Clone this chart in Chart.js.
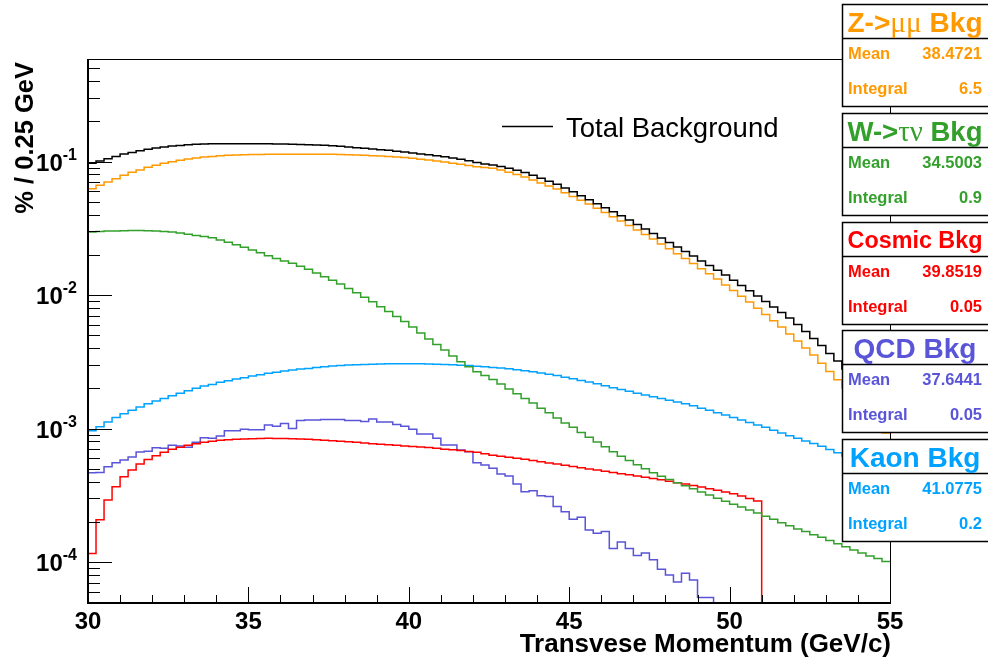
<!DOCTYPE html>
<html>
<head>
<meta charset="utf-8">
<script src="https://cdn.jsdelivr.net/npm/chart.js@4.4.0/dist/chart.umd.min.js"></script>
<style>
  html, body { margin: 0; padding: 0; background: #fff; }
  #wrap { width: 988px; height: 662px; }
</style>
</head>
<body>
<div id="wrap"><canvas id="bkgChart" width="988" height="662"></canvas></div>
<script>
// binning (0.25 GeV bins from 30 to 55)
const binLow = 30;
const binWidth = 0.25;
const xTicks = [30, 35, 40, 45, 50, 55];
const yDecades = [1e-4, 1e-3, 1e-2, 1e-1];
const yExponents = ['-4', '-3', '-2', '-1'];
const yMin = 4.93e-5;
const yMax = 0.586;

// values, one per bin (% / 0.25 GeV)
const totalBkg = [
  0.0969, 0.1009, 0.105, 0.109, 0.1138, 0.117, 0.1205, 0.1234, 0.1263, 0.1284,
  0.1306, 0.132, 0.1336, 0.1345, 0.1352, 0.1356, 0.1358, 0.136, 0.136, 0.136,
  0.136, 0.1358, 0.1356, 0.1354, 0.1351, 0.1347, 0.1342, 0.1336, 0.1329, 0.1321,
  0.1311, 0.1299, 0.1285, 0.1269, 0.1255, 0.124, 0.1227, 0.1213, 0.1196, 0.1178,
  0.116, 0.114, 0.1123, 0.1105, 0.1084, 0.1062, 0.1038, 0.1014, 0.0985, 0.0958,
  0.0942, 0.0917, 0.089, 0.0859, 0.0827, 0.0788, 0.0748, 0.0711, 0.0675, 0.0633,
  0.0593, 0.0553, 0.0516, 0.0482, 0.045, 0.042, 0.0392, 0.0364, 0.0337, 0.0312,
  0.0289, 0.0267, 0.0247, 0.0229, 0.0212, 0.0196, 0.018, 0.0166, 0.0153, 0.0141,
  0.0129, 0.01176, 0.01075, 0.00983, 0.00894, 0.00813, 0.00739, 0.00672, 0.00601, 0.00533,
  0.00472, 0.00418, 0.00365, 0.0032, 0.00279, 0.00243, 0.00212, 0.00183, 0.00157, 0.00133
];
const zmumuBkg = [
  0.0626, 0.0664, 0.0702, 0.0743, 0.0788, 0.083, 0.0864, 0.0904, 0.0936, 0.0969,
  0.0997, 0.102, 0.1045, 0.1062, 0.108, 0.109, 0.1105, 0.1113, 0.1119, 0.1124,
  0.1127, 0.113, 0.1132, 0.1133, 0.1134, 0.1135, 0.1135, 0.1135, 0.1134, 0.1133,
  0.1131, 0.1128, 0.1124, 0.1118, 0.1112, 0.1105, 0.1098, 0.109, 0.1082, 0.1072,
  0.1058, 0.1042, 0.1026, 0.1008, 0.099, 0.097, 0.0952, 0.0934, 0.0915, 0.0903,
  0.089, 0.0864, 0.083, 0.0798, 0.0765, 0.0727, 0.069, 0.0655, 0.0622, 0.0584,
  0.0547, 0.0513, 0.048, 0.0447, 0.0415, 0.0386, 0.0358, 0.0332, 0.0307, 0.0284,
  0.0263, 0.0241, 0.0222, 0.0204, 0.0188, 0.0172, 0.0157, 0.0144, 0.0132, 0.0119,
  0.0108, 0.00978, 0.00886, 0.00795, 0.00714, 0.00641, 0.00576, 0.0051, 0.00452, 0.00401,
  0.00355, 0.00308, 0.00267, 0.00232, 0.00201, 0.00172, 0.00147, 0.00126, 0.00108, 0.000925
];
const wtaunuBkg = [
  0.0296, 0.0299, 0.0301, 0.0302, 0.0303, 0.0304, 0.0304, 0.0303, 0.0302, 0.0299,
  0.0296, 0.0292, 0.0285, 0.0279, 0.0274, 0.0268, 0.0258, 0.0248, 0.0238, 0.0228,
  0.0217, 0.0207, 0.0197, 0.0188, 0.018, 0.01727, 0.0164, 0.01558, 0.0146, 0.0137,
  0.0129, 0.0121, 0.0112, 0.0104, 0.00963, 0.00889, 0.00818, 0.00752, 0.0069, 0.00632,
  0.00576, 0.00519, 0.00468, 0.00426, 0.00387, 0.00349, 0.00316, 0.0029, 0.00266, 0.00249,
  0.00233, 0.00215, 0.00198, 0.00182, 0.00168, 0.00155, 0.00142, 0.00131, 0.0012, 0.0011,
  0.00102, 0.000934, 0.00086, 0.000792, 0.000729, 0.000671, 0.000619, 0.000575, 0.000535, 0.0005,
  0.000467, 0.000439, 0.000415, 0.000393, 0.000372, 0.000353, 0.000334, 0.000317, 0.0003, 0.000285,
  0.000271, 0.000258, 0.000245, 0.000233, 0.00022, 0.000209, 0.000197, 0.000187, 0.000177, 0.000169,
  0.00016, 0.000153, 0.000145, 0.000137, 0.00013, 0.000123, 0.000117, 0.000111, 0.000106, 0.000101
];
const cosmicBkg = [
  0.000116, 0.000207, 0.000291, 0.000366, 0.000435, 0.000489, 0.000542, 0.000587, 0.000625, 0.000663,
  0.000699, 0.000723, 0.000748, 0.000769, 0.000788, 0.000802, 0.000816, 0.000825, 0.00083, 0.000834,
  0.000838, 0.000841, 0.000845, 0.000843, 0.000841, 0.000838, 0.000834, 0.00083, 0.000825, 0.000818,
  0.00081, 0.000804, 0.000797, 0.000788, 0.000778, 0.00077, 0.000763, 0.000755, 0.000748, 0.00074,
  0.000733, 0.000727, 0.00072, 0.00071, 0.0007, 0.000692, 0.000683, 0.000673, 0.000664, 0.000647,
  0.00063, 0.000619, 0.000609, 0.000598, 0.000588, 0.000576, 0.000564, 0.000552, 0.000541, 0.00053,
  0.000519, 0.000508, 0.000498, 0.000489, 0.000479, 0.000469, 0.000459, 0.00045, 0.000441, 0.000432,
  0.000423, 0.000413, 0.000403, 0.000393, 0.000384, 0.000374, 0.000364, 0.000354, 0.000344, 0.000335,
  0.000324, 0.000312, 0.000299, 0.000286, 0, 0, 0, 0, 0, 0,
  0, 0, 0, 0, 0, 0, 0, 0, 0, 0
];
const qcdBkg = [
  0.000467, 0.000468, 0.000518, 0.000555, 0.000581, 0.000612, 0.000668, 0.000675, 0.000718, 0.000711,
  0.000748, 0.00074, 0.000723, 0.000788, 0.000853, 0.000845, 0.000879, 0.000964, 0.000964, 0.000987,
  0.00098, 0.00098, 0.00106, 0.00104, 0.00109, 0.001, 0.001146, 0.00116, 0.00116, 0.00117,
  0.00117, 0.00117, 0.001146, 0.001146, 0.00113, 0.00118, 0.00112, 0.00112, 0.00107, 0.00104,
  0.000987, 0.00091, 0.00091, 0.000845, 0.000751, 0.000751, 0.00069, 0.00067, 0.000555, 0.000533,
  0.000503, 0.000456, 0.000441, 0.000384, 0.000336, 0.000342, 0.000314, 0.000309, 0.00026, 0.000238,
  0.000209, 0.000216, 0.000174, 0.000164, 0.000169, 0.000126, 0.000141, 0.000126, 0.000112, 0.000117,
  0.000104, 0.0000881, 0.00008, 0.0000708, 0.0000822, 0.0000733, 0.0000543, 0.0000543, 0, 0,
  0, 0, 0, 0, 0, 0, 0, 0, 0, 0,
  0, 0, 0, 0, 0, 0, 0, 0, 0, 0
];
const kaonBkg = [
  0.000964, 0.00103, 0.00112, 0.00121, 0.00129, 0.00137, 0.00145, 0.00153, 0.00161, 0.00168,
  0.00176, 0.00184, 0.00192, 0.002, 0.00208, 0.00214, 0.00222, 0.00228, 0.00235, 0.0024,
  0.00247, 0.00253, 0.00259, 0.00264, 0.0027, 0.00274, 0.00279, 0.00282, 0.00287, 0.0029,
  0.00294, 0.00297, 0.00299, 0.003, 0.00302, 0.00303, 0.00304, 0.00305, 0.00306, 0.00306,
  0.00306, 0.00305, 0.00304, 0.00303, 0.00302, 0.003, 0.00298, 0.00296, 0.00293, 0.0029,
  0.00287, 0.00284, 0.0028, 0.00276, 0.00271, 0.00266, 0.0026, 0.00255, 0.00249, 0.00242,
  0.00236, 0.00229, 0.00223, 0.00216, 0.00209, 0.00202, 0.00196, 0.0019, 0.00184, 0.00178,
  0.00173, 0.00168, 0.00163, 0.00158, 0.00153, 0.00148, 0.00142, 0.00137, 0.00131, 0.00126,
  0.00121, 0.00116, 0.00111, 0.00106, 0.00102, 0.000969, 0.000925, 0.000883, 0.000845, 0.000807,
  0.000772, 0.000737, 0.000696, 0.000658, 0.000622, 0.000589, 0.000557, 0.000527, 0.000499, 0.000472
];

// stat boxes
const statNames = ['Z->\u03bc\u03bc Bkg', 'W->\u03c4\u03bd Bkg', 'Cosmic Bkg', 'QCD Bkg', 'Kaon Bkg'];
const statMeans = ['38.4721', '34.5003', '39.8519', '37.6441', '41.0775'];
const statIntegrals = ['6.5', '0.9', '0.05', '0.05', '0.2'];
const statColors = ['#ff9900', '#33a02c', '#ff0000', '#5954d8', '#00a2ff'];

const SANS = '"Liberation Sans", Arial, Helvetica, sans-serif';

// histogram -> step points (left bin edges + closing edge), empty bins sit on the axis
function histPoints(vals) {
  const pts = vals.map((v, i) => ({ x: binLow + i * binWidth, y: v > 0 ? v : yMin }));
  pts.push({ x: binLow + vals.length * binWidth, y: pts[pts.length - 1].y });
  return pts;
}

function hist(label, vals, color) {
  return {
    label,
    data: histPoints(vals),
    borderColor: color,
    borderWidth: 1.5,
    pointRadius: 0,
    fill: false,
    stepped: 'before',
    clip: false,
  };
}

// box title, scaled to fill the box like ROOT does; greek letters in a serif face
function drawTitle(ctx, text, cx, midY, color) {
  const parts = [];
  for (const ch of text) {
    const greek = /[\u0370-\u03ff]/.test(ch);
    if (parts.length && parts[parts.length - 1].greek === greek) parts[parts.length - 1].s += ch;
    else parts.push({ s: ch, greek });
  }
  const fontOf = (p, size) => p.greek ? (size * 1.05) + 'px "Liberation Serif", serif' : 'bold ' + size + 'px ' + SANS;
  let w1 = 0;
  parts.forEach(p => { ctx.font = fontOf(p, 10); w1 += ctx.measureText(p.s).width / 10; });
  const size = Math.min(28, 135 / w1);
  let w = 0;
  parts.forEach(p => { ctx.font = fontOf(p, size); p.w = ctx.measureText(p.s).width; w += p.w; });
  let xx = cx - w / 2;
  ctx.fillStyle = color;
  ctx.textAlign = 'left';
  ctx.textBaseline = 'alphabetic';
  const baseline = midY + size * 0.716 / 2;
  parts.forEach(p => { ctx.font = fontOf(p, size); ctx.fillText(p.s, xx, baseline); xx += p.w; });
}

const rootFrame = {
  id: 'rootFrame',
  afterDraw(chart) {
    const { ctx, chartArea: a, scales: { x, y } } = chart;
    ctx.save();
    ctx.strokeStyle = '#000';
    ctx.fillStyle = '#000';

    // frame
    ctx.lineWidth = 1;
    ctx.strokeRect(a.left + 0.5, a.top + 0.5, a.right - a.left, a.bottom - a.top);
    ctx.lineWidth = 2;
    ctx.beginPath();
    ctx.moveTo(a.left, a.top);
    ctx.lineTo(a.left, a.bottom);
    ctx.lineTo(a.right, a.bottom);
    ctx.stroke();

    // ticks
    ctx.lineWidth = 1;
    ctx.beginPath();
    for (let e = -5; e <= 0; e++) {
      for (let m = 1; m < 10; m++) {
        const v = m * Math.pow(10, e);
        if (v < yMin * 0.999 || v > yMax) continue;
        const py = Math.round(y.getPixelForValue(v)) + 0.5;
        ctx.moveTo(a.left, py);
        ctx.lineTo(a.left + (m === 1 ? 24 : 12), py);
      }
    }
    for (let t = xTicks[0]; t <= xTicks[xTicks.length - 1]; t++) {
      const px = Math.round(x.getPixelForValue(t)) + 0.5;
      ctx.moveTo(px, a.bottom);
      ctx.lineTo(px, a.bottom - (xTicks.includes(t) ? 16 : 8));
    }
    ctx.stroke();

    // x tick labels
    ctx.font = 'bold 24px ' + SANS;
    ctx.textAlign = 'center';
    ctx.textBaseline = 'alphabetic';
    xTicks.forEach(t => ctx.fillText(String(t), x.getPixelForValue(t), 629));

    // y tick labels 10^n
    yDecades.forEach((v, i) => {
      const py = y.getPixelForValue(v);
      ctx.font = 'bold 16px ' + SANS;
      const sw = ctx.measureText(yExponents[i]).width;
      ctx.textAlign = 'left';
      ctx.fillText(yExponents[i], 77 - sw, py - 2);
      ctx.font = 'bold 24px ' + SANS;
      const bw = ctx.measureText('10').width;
      ctx.fillText('10', 77 - sw - bw, py + 9);
    });

    // axis titles
    ctx.font = 'bold 26px ' + SANS;
    ctx.textAlign = 'right';
    ctx.fillText('Transvese Momentum (GeV/c)', 891, 652);
    ctx.font = 'bold 25.5px ' + SANS;
    ctx.save();
    ctx.translate(33, 62);
    ctx.rotate(-Math.PI / 2);
    ctx.fillText('% / 0.25 GeV', 0, 0);
    ctx.restore();

    // legend
    ctx.lineWidth = 1.5;
    ctx.beginPath();
    ctx.moveTo(502, 126.5);
    ctx.lineTo(553, 126.5);
    ctx.stroke();
    ctx.font = '27.5px ' + SANS;
    ctx.textAlign = 'left';
    ctx.fillText('Total Background', 566, 136.5);

    // stat boxes
    const bx = 842;
    const bw = 150;
    statNames.forEach((name, k) => {
      const top = Math.round(4 + 108.8 * k);
      const h = 102;
      ctx.fillStyle = '#fff';
      ctx.fillRect(bx, top, bw, h);
      ctx.strokeStyle = '#000';
      ctx.lineWidth = 1.5;
      ctx.strokeRect(bx + 0.5, top + 0.5, bw, h);
      ctx.beginPath();
      ctx.moveTo(bx, top + 34.5);
      ctx.lineTo(bx + bw, top + 34.5);
      ctx.stroke();
      drawTitle(ctx, name, 915, top + 18, statColors[k]);
      ctx.fillStyle = statColors[k];
      ctx.font = 'bold 16.5px ' + SANS;
      ctx.textAlign = 'left';
      ctx.fillText('Mean', 848, top + 55);
      ctx.fillText('Integral', 848, top + 90);
      ctx.textAlign = 'right';
      ctx.fillText(statMeans[k], 982, top + 55);
      ctx.fillText(statIntegrals[k], 982, top + 90);
    });
    ctx.restore();
  }
};

new Chart(document.getElementById('bkgChart').getContext('2d'), {
  type: 'line',
  data: {
    datasets: [
      hist('Total Background', totalBkg, '#000000'),
      hist('Z->mumu', zmumuBkg, statColors[0]),
      hist('W->taunu', wtaunuBkg, statColors[1]),
      hist('Cosmic', cosmicBkg, statColors[2]),
      hist('QCD', qcdBkg, statColors[3]),
      hist('Kaon', kaonBkg, statColors[4]),
    ],
  },
  options: {
    responsive: false,
    animation: false,
    events: [],
    layout: { padding: { left: 88, right: 98, top: 59, bottom: 59 } },
    scales: {
      x: { type: 'linear', min: 30, max: 55, display: false },
      y: { type: 'logarithmic', min: yMin, max: yMax, display: false },
    },
    plugins: {
      legend: { display: false },
      tooltip: { enabled: false },
    },
  },
  plugins: [rootFrame],
});
</script>
</body>
</html>
